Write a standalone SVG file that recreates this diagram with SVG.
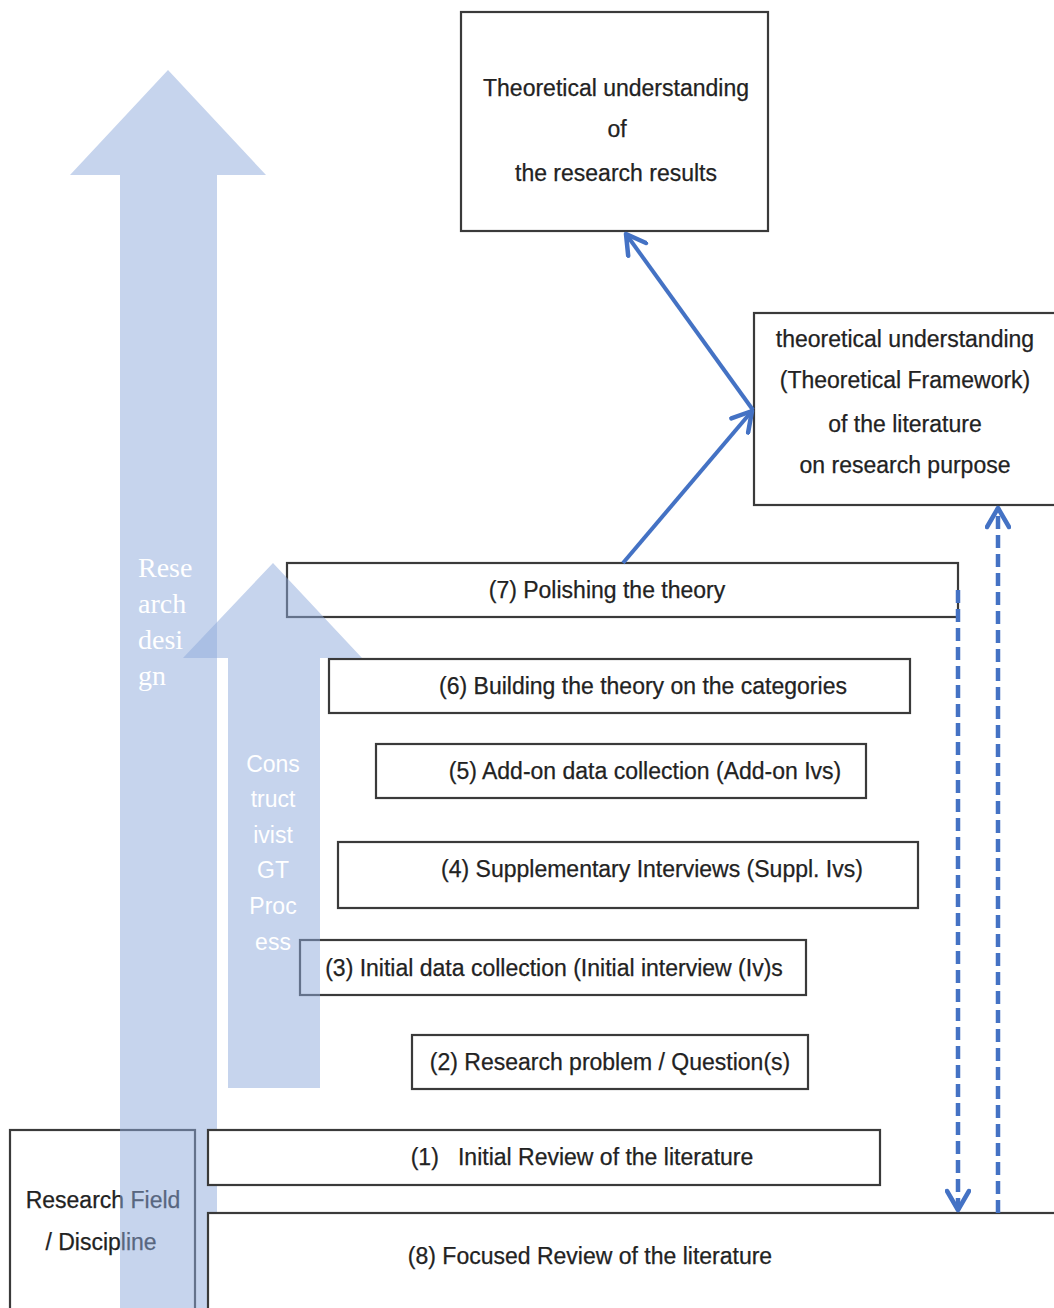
<svg xmlns="http://www.w3.org/2000/svg" width="1054" height="1308" viewBox="0 0 1054 1308">
  <style>
    .box { fill: #ffffff; stroke: #3a3a3a; stroke-width: 2.2; }
    .lbl { font-family: "Liberation Sans", Arial, sans-serif; font-size: 23px; fill: #222222; stroke: #222222; stroke-width: 0.25; text-anchor: middle; }
    .band { fill: #8eaadb; fill-opacity: 0.5; }
    .band-serif { font-family: "Liberation Serif", "Times New Roman", serif; font-size: 28px; fill: #ffffff; }
    .band-sans { font-family: "Liberation Sans", Arial, sans-serif; font-size: 23px; fill: #ffffff; text-anchor: middle; }
    .flow { fill: none; stroke: #4472c4; stroke-width: 4; }
    .dash { stroke-width: 4.5; stroke-dasharray: 13 6; }
  </style>
  <defs>
    <marker id="chev" viewBox="0 0 26 26" refX="22" refY="13" markerWidth="26" markerHeight="26" markerUnits="userSpaceOnUse" orient="auto">
      <path d="M 3 2 L 22 13 L 3 24" fill="none" stroke="#4472c4" stroke-width="4.5" stroke-linecap="round" stroke-linejoin="round" stroke-dasharray="none"/>
    </marker>
  </defs>

  <rect width="1054" height="1308" fill="#ffffff"/>

  <!-- base: research field -->
  <g id="research-field">
    <rect class="box" x="10" y="1130" width="185" height="200"/>
    <text class="lbl" x="103" y="1208">Research Field</text>
    <text class="lbl" x="101" y="1250">/ Discipline</text>
  </g>

  <!-- process steps -->
  <g id="step7">
    <rect class="box" x="287" y="563" width="671" height="54"/>
    <text class="lbl" x="607" y="598">(7) Polishing the theory</text>
  </g>
  <g id="step6">
    <rect class="box" x="329" y="659" width="581" height="54"/>
    <text class="lbl" x="643" y="694">(6) Building the theory on the categories</text>
  </g>
  <g id="step5">
    <rect class="box" x="376" y="744" width="490" height="54"/>
    <text class="lbl" x="645" y="779">(5) Add-on data collection (Add-on Ivs)</text>
  </g>
  <g id="step4">
    <rect class="box" x="338" y="842" width="580" height="66"/>
    <text class="lbl" x="652" y="877">(4) Supplementary Interviews (Suppl. Ivs)</text>
  </g>
  <g id="step3">
    <rect class="box" x="300" y="940" width="506" height="55"/>
    <text class="lbl" x="554" y="976">(3) Initial data collection (Initial interview (Iv)s</text>
  </g>
  <g id="step2">
    <rect class="box" x="412" y="1035" width="396" height="54"/>
    <text class="lbl" x="610" y="1070">(2) Research problem / Question(s)</text>
  </g>

  <!-- outcome boxes -->
  <g id="results-theory">
    <rect class="box" x="461" y="12" width="307" height="219"/>
    <text class="lbl" x="616" y="96">Theoretical understanding</text>
    <text class="lbl" x="617" y="137">of</text>
    <text class="lbl" x="616" y="181">the research results</text>
  </g>
  <g id="literature-theory">
    <rect class="box" x="754" y="313" width="400" height="192"/>
    <text class="lbl" x="905" y="347">theoretical understanding</text>
    <text class="lbl" x="905" y="388">(Theoretical Framework)</text>
    <text class="lbl" x="905" y="432">of the literature</text>
    <text class="lbl" x="905" y="473">on research purpose</text>
  </g>

  <!-- wide translucent arrows -->
  <g id="research-design">
    <polygon class="band" points="168,70 266,175 217,175 217,1320 120,1320 120,175 70,175"/>
  </g>
  <g id="gt-process">
    <polygon class="band" points="273,563 362,658 320,658 320,1088 228,1088 228,658 183,658"/>
    <g class="band-sans">
      <text x="273" y="772">Cons</text>
      <text x="273" y="807">truct</text>
      <text x="273" y="843">ivist</text>
      <text x="273" y="878">GT</text>
      <text x="273" y="914">Proc</text>
      <text x="273" y="950">ess</text>
    </g>
  </g>
  <g id="research-design-label" class="band-serif">
    <text x="138" y="577">Rese</text>
    <text x="138" y="613">arch</text>
    <text x="138" y="649">desi</text>
    <text x="138" y="685">gn</text>
  </g>

  <!-- literature reviews sit over the design arrow -->
  <g id="step1">
    <rect class="box" x="208" y="1130" width="672" height="55"/>
    <text class="lbl" x="582" y="1165" xml:space="preserve">(1)   Initial Review of the literature</text>
  </g>
  <g id="step8">
    <rect class="box" x="208" y="1213" width="900" height="200"/>
    <text class="lbl" x="590" y="1264">(8) Focused Review of the literature</text>
  </g>

  <!-- connectors -->
  <g id="connectors">
    <line class="flow" x1="623" y1="563" x2="752" y2="411" marker-end="url(#chev)"/>
    <line class="flow" x1="753" y1="410" x2="626" y2="234" marker-end="url(#chev)"/>
    <line class="flow dash" x1="958" y1="590" x2="958" y2="1210" marker-end="url(#chev)"/>
    <line class="flow dash" x1="998" y1="1213" x2="998" y2="508" marker-end="url(#chev)"/>
  </g>
</svg>
